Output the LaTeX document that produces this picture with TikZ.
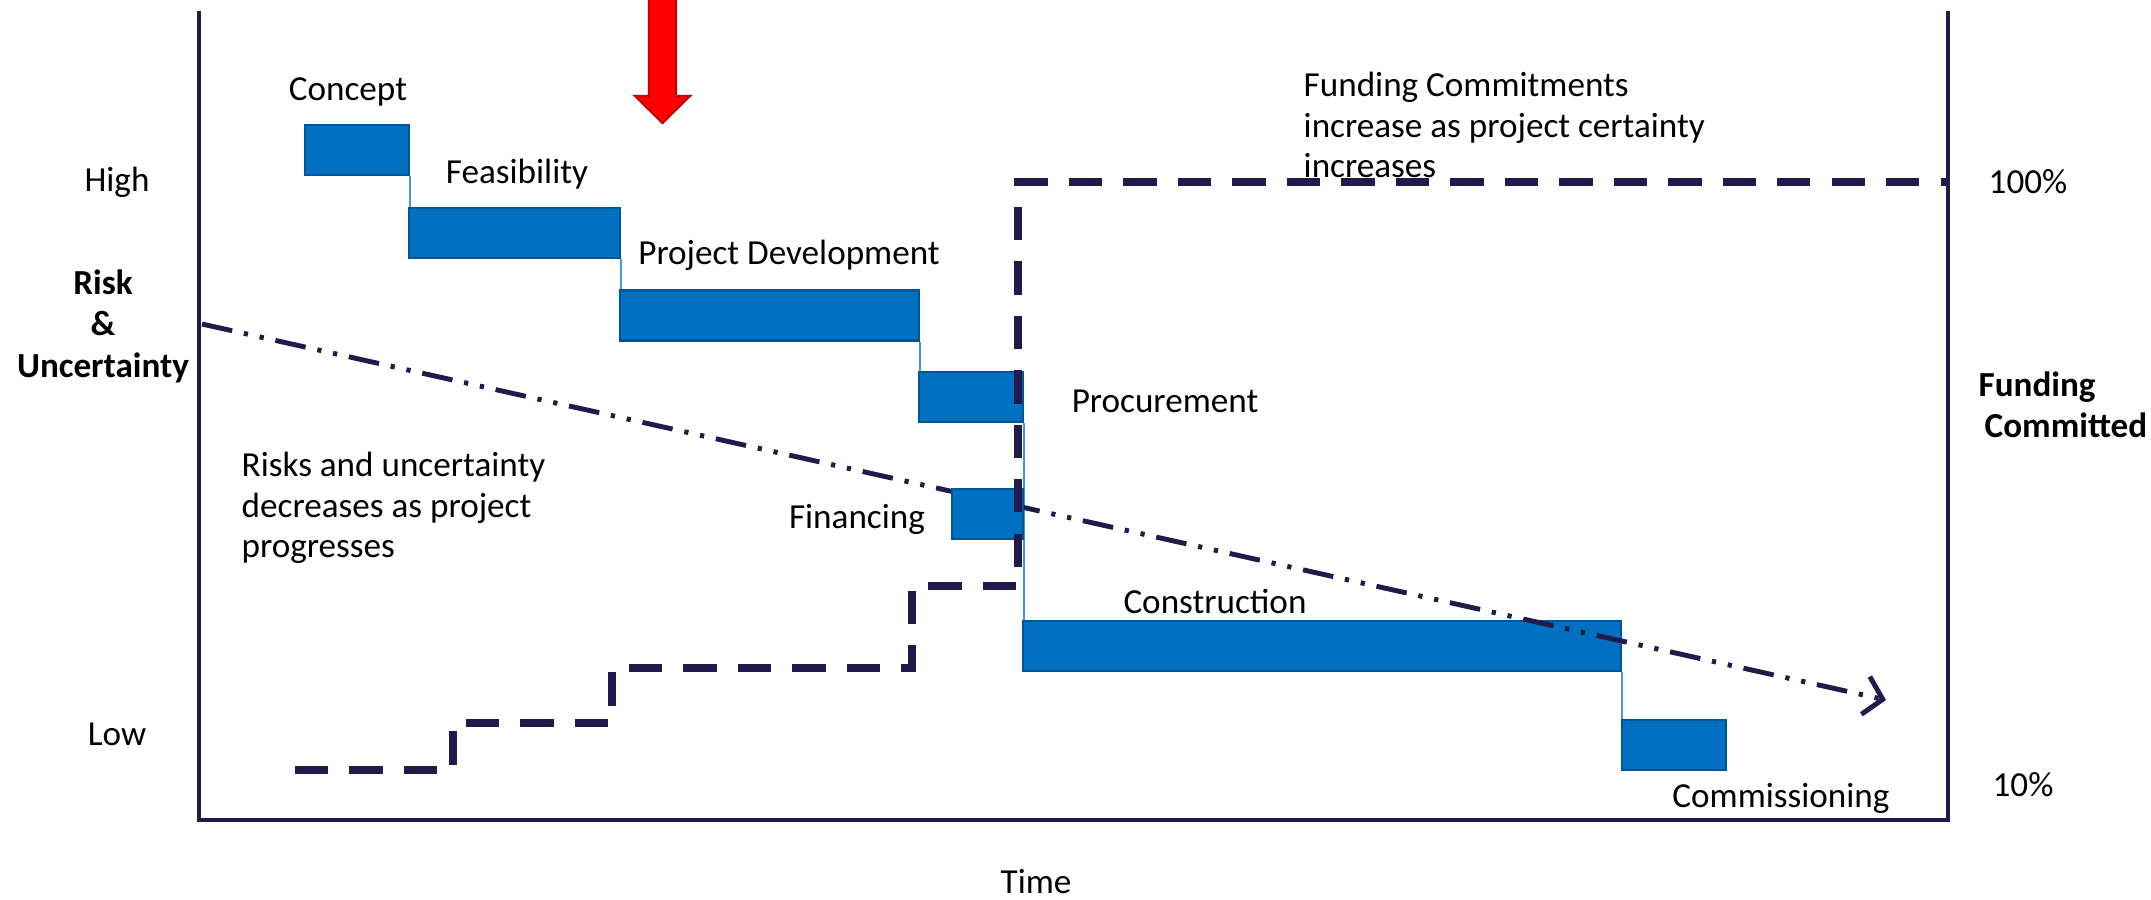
\documentclass[tikz,border=0pt]{standalone}
\usepackage{fontspec}
\setmainfont{Carlito}
\usetikzlibrary{arrows.meta}

\definecolor{phaseblue}{RGB}{0,112,192}
\definecolor{phaseedge}{RGB}{0,86,156}
\definecolor{linkblue}{RGB}{70,152,222}
\definecolor{navy}{RGB}{33,26,74}
\definecolor{arrowred}{RGB}{255,0,0}
\definecolor{arrowedge}{RGB}{200,0,0}

\begin{document}
\begin{tikzpicture}[x=0.1mm,y=-0.1mm,
    txt/.style={inner sep=0pt,font=\fontsize{10}{11.5}\selectfont},
    boldtxt/.style={inner sep=0pt,font=\fontsize{10}{11.8}\selectfont\bfseries},
    phase/.style={draw=phaseedge,fill=phaseblue,line width=0.6pt,minimum height=5mm,inner sep=0pt},
    link/.style={draw=linkblue,line width=0.5pt},
    funding/.style={navy,line width=2.5pt,dash pattern=on 9.5pt off 6pt},
    riskline/.style={navy,line width=1.4pt,
        dash pattern=on 8.8pt off 3.4pt on 1.2pt off 3.4pt on 1.2pt off 3.4pt,
        -{Straight Barb[length=5pt,width=11pt]}}]

    \useasboundingbox (0,0) rectangle (2151,899);

    \draw[navy,line width=1.3pt] (199,11) -- (199,820) -- (1948,820) -- (1948,11);

    \node[phase,minimum width=10.4mm] (concept) at (356.6,150) {};
    \node[phase,minimum width=21.1mm] (feas) at (514.5,233) {};
    \node[phase,minimum width=29.9mm] (dev) at (769.5,315.5) {};
    \node[phase,minimum width=10.4mm] (proc) at (971,397) {};
    \node[phase,minimum width=59.8mm] (constr) at (1322,646) {};
    \node[phase,minimum width=10.4mm] (comm) at (1673.6,745) {};

    \draw[link] (concept.south east) -- (concept.south east |- feas.north);
    \draw[link] (feas.south east) -- (feas.south east |- dev.north);
    \draw[link] (dev.south east) -- (dev.south east |- proc.north);
    \draw[link] (proc.south east) -- (proc.south east |- constr.north);
    \draw[link] (constr.south east) -- (constr.south east |- comm.north);

    \coordinate (riskstart) at (202,324);
    \coordinate (riskend) at (1886,700);
    \draw[riskline] (riskstart) -- (riskend);

    \node[phase,minimum width=7.1mm] (fin) at (987.5,514) {};

    \draw[funding] (295,770) -| (453,723) -| (612,668) -| (912,586) -| (1018,182) -- (1948,182);

    \draw[draw=arrowedge,fill=arrowred,line width=0.6pt] (649,-5) -- (649,96) -- (635,96)
        -- (662.5,123) -- (690,96) -- (676,96) -- (676,-5);

    \node[txt] (lconcept) at (348,92) {Concept};
    \node[txt] (lfeas) at (517,174) {Feasibility};
    \node[txt] (ldev) at (789,255) {Project Development};
    \node[txt] (lproc) at (1165,401) {Procurement};
    \node[txt] (lfin) at (857,519) {Financing};
    \node[txt] (lconstr) at (1215,601) {Construction};
    \node[txt] (lcomm) at (1781,798) {Commissioning};

    \node[txt] (high) at (117,182) {High};
    \node[txt] (low) at (117,734) {Low};
    \node[boldtxt,align=center] (risk) at (103,326) {Risk\\\&\\Uncertainty};
    \node[boldtxt,align=left,anchor=west] (committed) at (1978,405) {Funding\\\hspace{0.6mm}Committed};
    \node[txt] (full) at (2028,182) {100\%};
    \node[txt] (tenth) at (2023,785) {10\%};
    \node[txt] (time) at (1036,882) {Time};

    \node[txt,align=left,anchor=west] (risknote) at (241,508) {Risks and uncertainty\\decreases as project\\progresses};
    \node[txt,align=left,anchor=west] (fundnote) at (1303,125) {Funding Commitments\\increase as project certainty\\increases};
\end{tikzpicture}
\end{document}
